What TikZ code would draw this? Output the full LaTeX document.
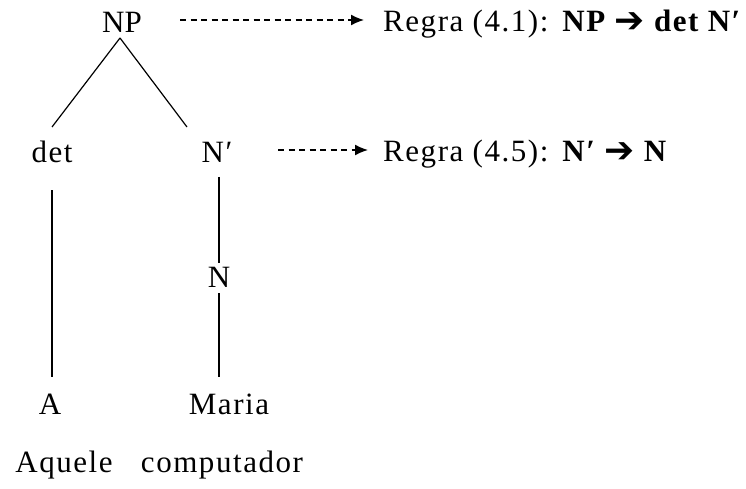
\documentclass[tikz,border=0pt]{standalone}
\usepackage{fontspec}
\setmainfont{Liberation Serif}[LetterSpace=5]
\usetikzlibrary{arrows.meta}
\newfontfamily\arrowfont{DejaVu Sans}
\newcommand\rarr{{\arrowfont\bfseries\fontsize{36}{32}\selectfont\raisebox{-1pt}{\char"2794}}}
\newcommand\prm{\char"2032}
\begin{document}
\begin{tikzpicture}[x=1pt,y=-1pt,
  lab/.style={inner sep=0pt,anchor=center,font=\fontsize{31}{32}\selectfont},
  tlab/.style={inner sep=0pt,anchor=center,font=\fontsize{31}{32}\selectfont\addfontfeature{LetterSpace=0}},
  rule/.style={inner sep=0pt,anchor=west,font=\fontsize{31}{32}\selectfont},
  edge/.style={line width=1.2pt},
  darrow/.style={line width=1.5pt,dash pattern=on 6pt off 4.5pt,-{Latex[length=13pt,width=11pt]}}]
\useasboundingbox (0,0) rectangle (746,489);
\node[tlab] (np) at (122,22) {NP};
\node[lab] (det) at (52,152) {det};
\node[lab] (nb) at (217,152) {N\prm};
\node[lab] (n) at (219,277) {N};
\node[lab] (a) at (50,404) {A};
\node[lab] (maria) at (229,404) {Maria};
\node[lab] (aquele) at (64,465) {Aquele};
\node[lab] (comp) at (222,465) {computador};
\node[rule] (r1) at (383,24) {Regra (4.1): \textbf{NP \rarr\ det N\prm}};
\node[rule] (r2) at (383,154) {Regra (4.5): \textbf{N\prm\ \rarr\ N}};
\coordinate (top) at (120,38);
\coordinate (dl) at (52,127);
\coordinate (nl) at (187,127);
\draw[edge] (top) -- (dl);
\draw[edge] (top) -- (nl);
\coordinate (d1) at (52,190);
\coordinate (d2) at (52,377);
\draw[edge] (d1) -- (d2);
\coordinate (n1) at (219,177);
\coordinate (n2) at (219,263);
\coordinate (n3) at (219,293);
\coordinate (n4) at (219,377);
\draw[edge] (n1) -- (n2);
\draw[edge] (n3) -- (n4);
\coordinate (a1s) at (180,20);
\coordinate (a1e) at (364,20);
\draw[darrow] (a1s) -- (a1e);
\coordinate (a2s) at (278,150);
\coordinate (a2e) at (368,150);
\draw[darrow] (a2s) -- (a2e);
\end{tikzpicture}
\end{document}
